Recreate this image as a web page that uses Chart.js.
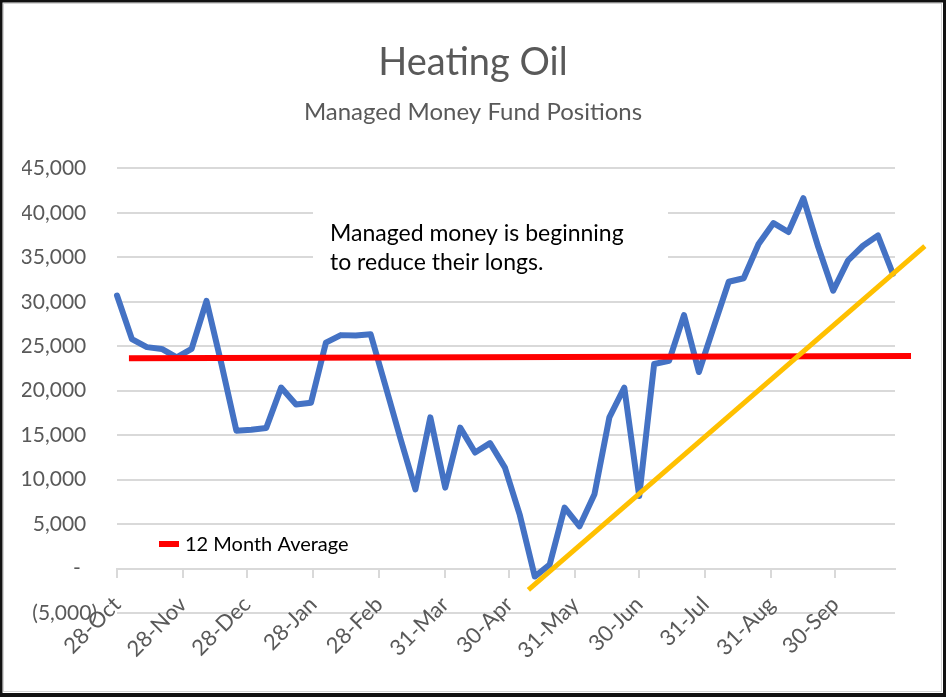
<!DOCTYPE html>
<html>
<head>
<meta charset="utf-8">
<title>Heating Oil</title>
<script src="https://cdn.jsdelivr.net/npm/chart.js@4.4.1/dist/chart.umd.min.js"></script>
<style>
  html, body { margin: 0; padding: 0; background: #fff; overflow: hidden; }
  #wrap { width: 946px; height: 697px; }
</style>
</head>
<body>
<div id="wrap"><canvas id="heatingOil" width="946" height="697"></canvas></div>
<script>
// managed money net positions, one value per week from 28-Oct
const positions = [
    30700, 25800, 24900, 24700, 23750, 24700, 30100, 23000, 15500, 15600,
    15800, 20350, 18450, 18650, 25400, 26250, 26200, 26350, 20500, 14600,
    8900, 17000, 9100, 15850, 13050, 14100, 11350, 6000, -900, 450,
    6850, 4750, 8350, 17000, 20350, 8150, 23000, 23350, 28500, 22100,
    27200, 32250, 32650, 36500, 38850, 37850, 41650, 36150, 31250, 34650,
    36300, 37450, 33150
];
// days since 28-Oct of each weekly report
const weekDays = positions.map((_, i) => i * 7);

const tickDays = [0, 31, 61, 92, 123, 154, 184, 215, 245, 276, 307, 337];
const tickLabels = ['28-Oct', '28-Nov', '28-Dec', '28-Jan', '28-Feb', '31-Mar',
    '30-Apr', '31-May', '30-Jun', '31-Jul', '31-Aug', '30-Sep'];

// 12 month average line (drawn as a flat line across the chart)
const avgDays = [5.6, 372.5];
const avgValues = [23650, 23900];

// hand drawn uptrend from the May low
const trendDays = [193, 379];
const trendValues = [-2400, 36250];

const noteLines = ['Managed money is beginning', 'to reduce their longs.'];

const toPoints = (days, values) => values.map((v, i) => ({ x: days[i], y: v }));

const yLabel = (v) => {
    if (v > 0) return v.toLocaleString('en-US') + '  ';
    if (v === 0) return '-   ';
    return '(' + Math.abs(v).toLocaleString('en-US') + ')';
};

// text box over the grid
const noteBox = {
    id: 'noteBox',
    beforeDatasetsDraw(chart) {
        const ctx = chart.ctx;
        ctx.save();
        ctx.fillStyle = '#fff';
        ctx.fillRect(313, 190, 355, 104);
        ctx.fillStyle = '#000';
        ctx.font = '23px Lato';
        ctx.textBaseline = 'alphabetic';
        ctx.textAlign = 'left';
        ctx.fillText(noteLines[0], 330, 241);
        ctx.fillText(noteLines[1], 330, 270);
        ctx.restore();
    }
};

// small legend for the average line, inside the plot
const avgLegend = {
    id: 'avgLegend',
    afterDatasetsDraw(chart) {
        const ds = chart.data.datasets[1];
        const ctx = chart.ctx;
        const left = chart.chartArea.left + 42;
        ctx.save();
        ctx.strokeStyle = ds.borderColor;
        ctx.lineWidth = 6;
        ctx.beginPath();
        ctx.moveTo(left, 544);
        ctx.lineTo(left + 20, 544);
        ctx.stroke();
        ctx.fillStyle = '#000';
        ctx.font = '20px Lato';
        ctx.textBaseline = 'alphabetic';
        ctx.fillText(ds.label, left + 26, 551);
        ctx.restore();
    }
};

const frame = {
    id: 'frame',
    afterDraw(chart) {
        const ctx = chart.ctx;
        const w = chart.width, h = chart.height;
        ctx.save();
        ctx.fillStyle = '#111';
        ctx.fillRect(0, 0, w, 2.5);
        ctx.fillRect(0, 0, 2.5, h);
        ctx.fillRect(w - 3, 0, 3, h);
        ctx.fillRect(0, h - 4, w, 4);
        ctx.strokeStyle = '#d4d4d4';
        ctx.lineWidth = 1;
        ctx.strokeRect(3.5, 3.5, w - 8, h - 9);
        ctx.restore();
    }
};

new Chart('heatingOil', {
    type: 'line',
    data: {
        datasets: [
            {
                label: 'Managed Money',
                data: toPoints(weekDays, positions),
                borderColor: '#4472C4',
                borderWidth: 6,
                borderJoinStyle: 'round',
                borderCapStyle: 'round',
                pointRadius: 0,
                clip: false,
                order: 2
            },
            {
                label: '12 Month Average',
                data: toPoints(avgDays, avgValues),
                borderColor: '#FF0000',
                borderWidth: 6,
                pointRadius: 0,
                clip: false,
                order: 1
            },
            {
                label: 'Trend',
                data: toPoints(trendDays, trendValues),
                borderColor: '#FFC000',
                borderWidth: 5,
                pointRadius: 0,
                clip: false,
                order: 0
            }
        ]
    },
    options: {
        responsive: false,
        animation: false,
        layout: { padding: { left: 22, right: 22, top: 0, bottom: 84 } },
        plugins: {
            legend: { display: false },
            tooltip: { enabled: false },
            title: {
                display: true,
                text: 'Heating Oil',
                color: '#595959',
                font: { family: 'Lato', size: 38, weight: 'normal' },
                padding: { top: 40, bottom: 0 }
            },
            subtitle: {
                display: true,
                text: 'Managed Money Fund Positions',
                color: '#595959',
                font: { family: 'Lato', size: 24, weight: 'normal' },
                padding: { top: 12, bottom: 42 }
            }
        },
        scales: {
            x: {
                type: 'linear',
                position: { y: 0 },
                min: 0,
                max: 365,
                afterBuildTicks: (scale) => {
                    scale.ticks = tickDays.map(v => ({ value: v }));
                },
                ticks: {
                    autoSkip: false,
                    minRotation: 45,
                    maxRotation: 45,
                    padding: 15,
                    color: '#595959',
                    font: { family: 'Lato', size: 22 },
                    callback: (v) => tickLabels[tickDays.indexOf(v)]
                },
                grid: { drawOnChartArea: false, drawTicks: true, tickLength: 8, color: '#D9D9D9', lineWidth: 2 },
                border: { display: true, color: '#D9D9D9', width: 2 }
            },
            y: {
                min: -5000,
                max: 45000,
                afterFit: (scale) => { scale.width = 95; },
                ticks: {
                    stepSize: 5000,
                    padding: 20,
                    color: '#595959',
                    font: { family: 'Lato', size: 21 },
                    callback: yLabel
                },
                grid: { drawTicks: false, color: '#D9D9D9', lineWidth: 2 },
                border: { display: false }
            },
            // empty right margin so the title stays centred on the page
            yRight: {
                position: 'right',
                afterFit: (scale) => { scale.width = 29; },
                ticks: { display: false },
                grid: { display: false },
                border: { display: false }
            }
        }
    },
    plugins: [noteBox, avgLegend, frame]
});
</script>
</body>
</html>
